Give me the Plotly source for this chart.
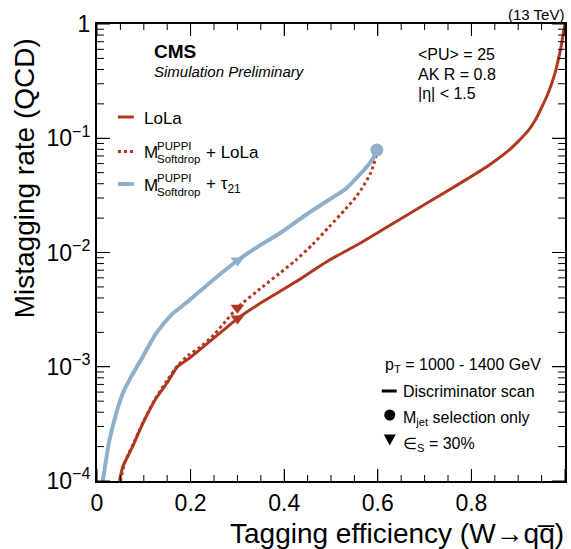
import math
import plotly.graph_objects as go

# ROC curves: W-tagging efficiency vs QCD mistag rate (pT 1000-1400 GeV)
lola_eff = [0.048, 0.055, 0.076, 0.098, 0.126, 0.15, 0.172, 0.195, 0.218, 0.25,
            0.275, 0.30, 0.353, 0.424, 0.495, 0.566, 0.637, 0.708, 0.779, 0.836,
            0.879, 0.90, 0.921, 0.937, 0.95, 0.961, 0.971, 0.979, 0.985, 0.991, 0.996, 1.0]
lola_mis = [1.0e-4, 1.33e-4, 2.0e-4, 3.19e-4, 5.27e-4, 7.24e-4, 1.0e-3, 1.17e-3, 1.39e-3, 1.79e-3,
            2.17e-3, 2.64e-3, 3.68e-3, 5.51e-3, 8.51e-3, 1.23e-2, 1.84e-2, 2.75e-2, 4.11e-2, 5.75e-2,
            7.78e-2, 9.4e-2, 0.116, 0.145, 0.186, 0.232, 0.297, 0.375, 0.475, 0.61, 0.813, 1.0]

sdlola_eff = [0.05, 0.06, 0.076, 0.098, 0.126, 0.15, 0.172, 0.195, 0.22, 0.25,
              0.275, 0.30, 0.353, 0.389, 0.424, 0.46, 0.495, 0.531, 0.552, 0.566,
              0.584, 0.591, 0.597, 0.598]
sdlola_mis = [1.0e-4, 1.48e-4, 2.04e-4, 3.24e-4, 5.37e-4, 7.59e-4, 1.02e-3, 1.26e-3, 1.48e-3, 1.91e-3,
              2.51e-3, 3.29e-3, 4.98e-3, 6.52e-3, 8.51e-3, 1.17e-2, 1.66e-2, 2.40e-2, 3.02e-2, 3.63e-2,
              4.90e-2, 5.89e-2, 7.24e-2, 7.89e-2]

sdtau_eff = [0.0124, 0.0266, 0.041, 0.055, 0.0728, 0.0976, 0.126, 0.158, 0.197, 0.2467,
             0.30, 0.353, 0.389, 0.424, 0.46, 0.495, 0.531, 0.566, 0.584, 0.592, 0.598]
sdtau_mis = [1.0e-4, 2.28e-4, 3.90e-4, 5.83e-4, 8.15e-4, 1.22e-3, 1.95e-3, 2.82e-3, 3.81e-3, 5.69e-3,
             8.51e-3, 1.19e-2, 1.46e-2, 1.84e-2, 2.33e-2, 2.88e-2, 3.60e-2, 5.04e-2, 6.15e-2, 6.92e-2, 7.89e-2]

# working points: signal efficiency 30 %
wp_eff = [0.30, 0.30, 0.30]
wp_mis = [2.64e-3, 3.29e-3, 8.5e-3]
wp_colors = ["#b0381f", "#b0381f", "#8fb0c8"]

# jet-mass-only selection point
mjet_eff = [0.598]
mjet_mis = [7.89e-2]

x_tickvals = [0, 0.2, 0.4, 0.6, 0.8, 1]
x_ticktext = ["0", "0.2", "0.4", "0.6", "0.8", "1"]
x_minor = [round(i * 0.05, 2) for i in range(21) if i % 4]
y_tickvals = [1e-4, 1e-3, 1e-2, 1e-1, 1]
y_ticktext = ["10<sup>\u22124</sup>", "10<sup>\u22123</sup>", "10<sup>\u22122</sup>",
              "10<sup>\u22121</sup>", "1"]
y_minor = [m * 10.0 ** e for e in range(-4, 0) for m in range(2, 10)]

X_RANGE = [0, 1]
Y_RANGE_LOG = [-4, 0]

RED = "#b0381f"
BLUE = "#8fb0c8"
FONT = "Liberation Sans"

W, H = 571, 549
L, R, T, B = 97, 4, 24, 68
PW, PH = W - L - R, H - T - B


def fx(px):
    return (px - L) / PW


def fy(py):
    return (H - B - py) / PH


def ylog_frac(v):
    return (math.log10(v) - Y_RANGE_LOG[0]) / (Y_RANGE_LOG[1] - Y_RANGE_LOG[0])


fig = go.Figure()
fig.add_trace(go.Scatter(x=lola_eff, y=lola_mis, mode="lines",
                         line=dict(color=RED, width=3, shape="spline", smoothing=0.6)))
fig.add_trace(go.Scatter(x=sdlola_eff, y=sdlola_mis, mode="lines",
                         line=dict(color=RED, width=3, dash="dot", shape="spline", smoothing=0.6)))
fig.add_trace(go.Scatter(x=sdtau_eff, y=sdtau_mis, mode="lines",
                         line=dict(color=BLUE, width=4, shape="spline", smoothing=0.6)))
fig.add_trace(go.Scatter(x=wp_eff, y=wp_mis, mode="markers",
                         marker=dict(symbol="triangle-down", size=12, color=wp_colors,
                                     line=dict(width=0))))
fig.add_trace(go.Scatter(x=mjet_eff, y=mjet_mis, mode="markers",
                         marker=dict(symbol="circle", size=13, color=BLUE,
                                     line=dict(width=0))))

tickfont = dict(family=FONT, size=23, color="black")

fig.update_layout(
    xaxis=dict(range=X_RANGE, showgrid=False, zeroline=False, showline=True, linecolor="black",
               linewidth=2, mirror="ticks", ticks="inside", ticklen=12, tickwidth=1,
               tickcolor="black", tickmode="array", tickvals=x_tickvals,
               ticktext=x_ticktext, tickfont=tickfont),
    yaxis=dict(type="log", range=Y_RANGE_LOG, showgrid=False, zeroline=False, showline=True,
               linecolor="black", linewidth=2, mirror="ticks", ticks="inside", ticklen=13,
               tickwidth=1, tickcolor="black", tickmode="array",
               tickvals=y_tickvals, ticktext=y_ticktext, tickfont=tickfont),
)

# tick marks pointing into the frame on all four sides
shapes = []
tick_line = dict(color="black", width=1)
for v, ln in [(v, 12) for v in x_tickvals] + [(v, 6) for v in x_minor]:
    f = (v - X_RANGE[0]) / (X_RANGE[1] - X_RANGE[0])
    shapes.append(dict(type="line", xref="paper", yref="paper", x0=f, x1=f, y0=0, y1=ln / PH,
                       line=tick_line, layer="above"))
    shapes.append(dict(type="line", xref="paper", yref="paper", x0=f, x1=f, y0=1 - ln / PH, y1=1,
                       line=tick_line, layer="above"))
for v, ln in [(v, 13) for v in y_tickvals] + [(v, 7) for v in y_minor]:
    f = ylog_frac(v)
    shapes.append(dict(type="line", xref="paper", yref="paper", x0=0, x1=ln / PW, y0=f, y1=f,
                       line=tick_line, layer="above"))
    shapes.append(dict(type="line", xref="paper", yref="paper", x0=1 - ln / PW, x1=1, y0=f, y1=f,
                       line=tick_line, layer="above"))

ann = []


def text(s, px, py, size, xanchor="left", **kw):
    ann.append(dict(text=s, x=fx(px), y=fy(py), xref="paper", yref="paper",
                    xanchor=xanchor, yanchor="middle", showarrow=False,
                    font=dict(family=FONT, size=size, color="black"), **kw))


# axis titles
text("Tagging efficiency (W\u2192qq\u0305)", 568, 533, 28, xanchor="right")
ann.append(dict(text="Mistagging rate (QCD)", x=fx(24), y=fy(178), xref="paper", yref="paper",
                xanchor="center", yanchor="middle", textangle=-90, showarrow=False,
                font=dict(family=FONT, size=28, color="black")))

# header
text("(13 TeV)", 568, 14, 15, xanchor="right")
text("<b>CMS</b>", 152, 51, 19)
text("<i>Simulation Preliminary</i>", 152, 72, 15)
text("&lt;PU&gt; = 25", 417, 55, 16)
text("AK R = 0.8", 417, 74, 16)
text("|\u03b7| &lt; 1.5", 417, 93, 16)

# curve legend
text("LoLa", 142, 118, 17)
for yc in (152.5, 185):
    text("M", 142, yc, 17)
    text("PUPPI", 155, yc - 7, 11.5)
    text("Softdrop", 155, yc + 6.5, 11.5)
text("+ LoLa", 204, 152.5, 17)
text("+ \u03c4<sub>21</sub>", 204, 185, 17)

# marker legend
text("p<sub>T</sub> = 1000 - 1400 GeV", 384, 365, 16)
text("Discriminator scan", 402, 391, 16)
text("M<sub>jet</sub> selection only", 402, 418, 16)
text("\u2208<sub>S</sub> = 30%", 402, 444, 16)

shapes += [
    dict(type="line", xref="paper", yref="paper", x0=fx(118), x1=fx(134), y0=fy(117), y1=fy(117),
         line=dict(color=RED, width=3)),
    dict(type="line", xref="paper", yref="paper", x0=fx(118), x1=fx(134), y0=fy(151.5), y1=fy(151.5),
         line=dict(color=RED, width=3, dash="dot")),
    dict(type="line", xref="paper", yref="paper", x0=fx(118), x1=fx(134), y0=fy(184), y1=fy(184),
         line=dict(color=BLUE, width=4)),
    dict(type="line", xref="paper", yref="paper", x0=fx(383), x1=fx(398), y0=fy(391), y1=fy(391),
         line=dict(color="black", width=3)),
    dict(type="circle", xref="paper", yref="paper", x0=fx(385.5), x1=fx(396.5), y0=fy(420.5),
         y1=fy(409.5), fillcolor="black", line=dict(width=0)),
    dict(type="path", xref="paper", yref="paper",
         path=f"M {fx(385)},{fy(434.5)} L {fx(397)},{fy(434.5)} L {fx(391)},{fy(445.5)} Z",
         fillcolor="black", line=dict(width=0)),
]

fig.update_layout(width=W, height=H, margin=dict(l=L, r=R, t=T, b=B),
                  paper_bgcolor="white", plot_bgcolor="white", showlegend=False,
                  annotations=ann, shapes=shapes, font=dict(family=FONT))

fig.write_html("out.html")
